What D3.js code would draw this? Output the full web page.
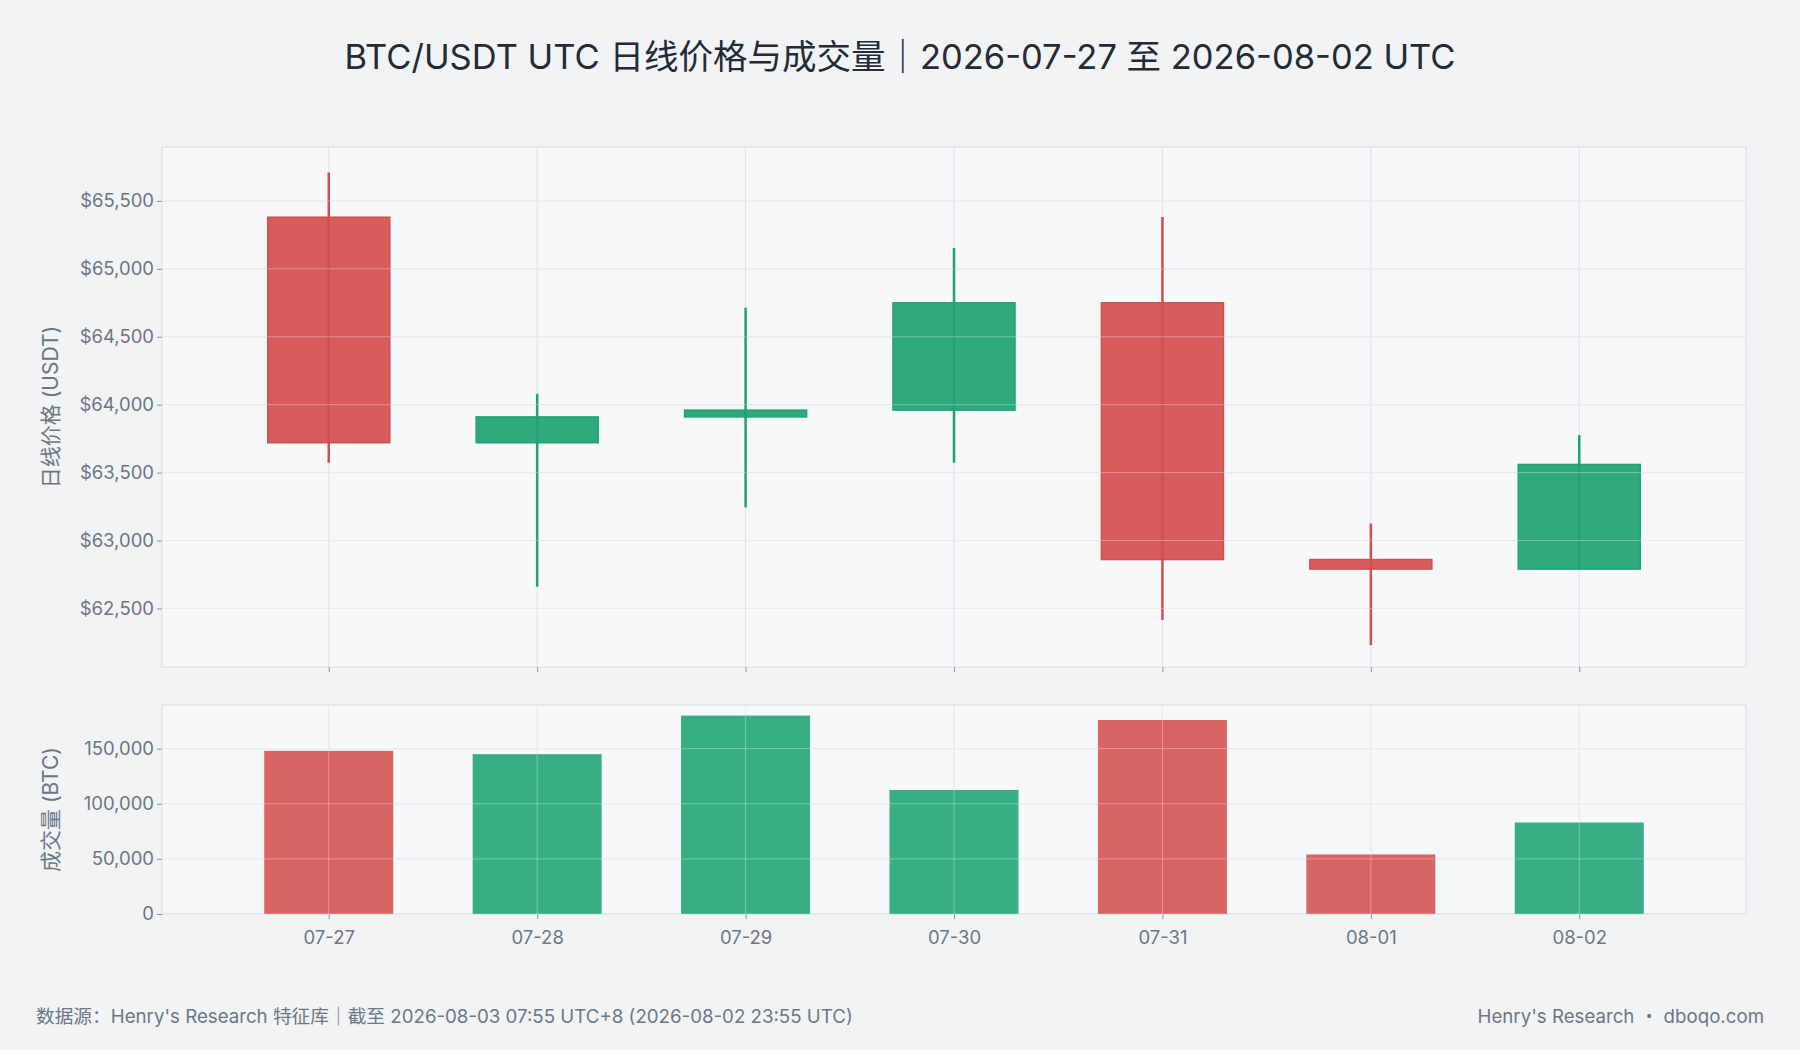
<!DOCTYPE html>
<html><head><meta charset="utf-8">
<script src="https://cdn.jsdelivr.net/npm/d3@7"></script>
<style>body{margin:0;background:#f1f3f5;font-family:Inter,"Noto Sans CJK SC",sans-serif}</style>
</head><body><svg id="c" width="1800" height="1050" font-family='Inter, "Noto Sans CJK SC", sans-serif'></svg>
<script>
const dates=["07-27","07-28","07-29","07-30","07-31","08-01","08-02"];
const opens=[65380,63720,63910,63960,64750,62860,62790];
const closes=[63720,63910,63960,64750,62860,62790,63560];
const highs=[65710,64080,64714,65153,65382,63125,63776];
const lows=[63573,62660,63244,63573,62415,62230,62787];
const volumes=[148000,145000,180000,112500,176000,54000,83000];
const priceTicks=[62500,63000,63500,64000,64500,65000,65500];
const volTicks=[0,50000,100000,150000];

const svg=d3.select("#c");
const FF='Inter, "Noto Sans CJK SC", sans-serif';
const RED="#d44e4e",GREEN="#1ea372",TXT="#6b7785";
const L=162,R=1746,PT=147,PB=667,VT=705,VB=914;
const x=d3.scalePoint().domain(dates).range([L,R]).padding(0.8);
const y=d3.scaleLinear().domain([62069,65897]).range([PB,PT]);
const yv=d3.scaleLinear().domain([0,189600]).range([VB,VT]);

svg.append("text").attr("x",900).attr("y",69).attr("text-anchor","middle").attr("font-size",34.5).attr("fill","#222b36")
 .text("BTC/USDT UTC 日线价格与成交量｜2026-07-27 至 2026-08-02 UTC");

function panel(t,b){svg.append("rect").attr("x",L).attr("y",t).attr("width",R-L).attr("height",b-t).attr("fill","#f6f8fa").attr("stroke","#d9dde2");}
panel(PT,PB);panel(VT,VB);

const g=svg.append("g").attr("stroke","#dde1e6");
priceTicks.forEach(v=>g.append("line").attr("x1",L).attr("x2",R).attr("y1",y(v)).attr("y2",y(v)));
volTicks.forEach(v=>g.append("line").attr("x1",L).attr("x2",R).attr("y1",yv(v)).attr("y2",yv(v)));
dates.forEach(d=>{g.append("line").attr("x1",x(d)).attr("x2",x(d)).attr("y1",PT).attr("y2",PB);
 g.append("line").attr("x1",x(d)).attr("x2",x(d)).attr("y1",VT).attr("y2",VB);});

const ax=svg.append("g").attr("transform",`translate(${L},0)`).call(d3.axisLeft(y).tickValues(priceTicks).tickFormat(d=>"$"+d3.format(",")(d)).tickSize(5));
const av=svg.append("g").attr("transform",`translate(${L},0)`).call(d3.axisLeft(yv).tickValues(volTicks).tickFormat(d3.format(",")).tickSize(5));
const axb=svg.append("g").attr("transform",`translate(0,${VB})`).call(d3.axisBottom(x).tickSize(5));
const axp=svg.append("g").attr("transform",`translate(0,${PB})`).call(d3.axisBottom(x).tickSize(5).tickFormat(""));
[ax,av,axb,axp].forEach(a=>{a.select(".domain").remove();a.selectAll("line").attr("stroke","#8a939e");a.selectAll("text").attr("fill",TXT).attr("font-size",18.5).attr("font-family",FF);});
axb.selectAll("text").attr("dy","1.2em");

svg.append("text").attr("transform",`translate(58,${(PT+PB)/2}) rotate(-90)`).attr("text-anchor","middle").attr("font-size",21).attr("fill",TXT).text("日线价格 (USDT)");
svg.append("text").attr("transform",`translate(58,${(VT+VB)/2}) rotate(-90)`).attr("text-anchor","middle").attr("font-size",21).attr("fill",TXT).text("成交量 (BTC)");

const cw=122,vw=129;
dates.forEach((d,i)=>{
 const up=closes[i]>=opens[i],c=up?GREEN:RED;
 svg.append("rect").attr("x",x(d)-cw/2).attr("width",cw).attr("y",y(Math.max(opens[i],closes[i])))
  .attr("height",Math.max(1,Math.abs(y(opens[i])-y(closes[i])))).attr("fill",c).attr("fill-opacity",0.92).attr("stroke",c).attr("stroke-width",1.5);
 svg.append("line").attr("x1",x(d)).attr("x2",x(d)).attr("y1",y(highs[i])).attr("y2",y(lows[i])).attr("stroke",c).attr("stroke-width",2.5);
 svg.append("rect").attr("x",x(d)-vw/2).attr("width",vw).attr("y",yv(volumes[i])).attr("height",yv(0)-yv(volumes[i])).attr("fill",c).attr("fill-opacity",0.88);
});
const g2=svg.append("g").attr("stroke","#ffffff").attr("stroke-opacity",0.35);
priceTicks.forEach(v=>g2.append("line").attr("x1",L).attr("x2",R).attr("y1",y(v)).attr("y2",y(v)));
volTicks.forEach(v=>g2.append("line").attr("x1",L).attr("x2",R).attr("y1",yv(v)).attr("y2",yv(v)));
dates.forEach(d=>g2.append("line").attr("x1",x(d)).attr("x2",x(d)).attr("y1",VT).attr("y2",VB));

svg.append("text").attr("x",36).attr("y",1023).attr("font-size",18.7).attr("fill",TXT).text("数据源：Henry's Research 特征库｜截至 2026-08-03 07:55 UTC+8 (2026-08-02 23:55 UTC)");
svg.append("text").attr("x",1764).attr("y",1023).attr("text-anchor","end").attr("font-size",18.7).attr("fill",TXT).text("Henry's Research ・ dboqo.com");
</script></body></html>
